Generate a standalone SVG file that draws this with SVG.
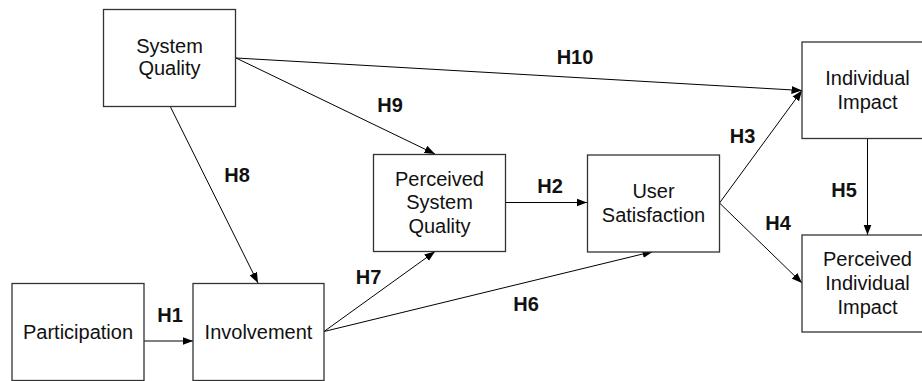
<svg xmlns="http://www.w3.org/2000/svg" width="922" height="381" viewBox="0 0 922 381">
<style>
.box{fill:#fff;stroke:#333;stroke-width:1.3}
.t{font-family:"Liberation Sans",Arial,sans-serif;font-size:20px;fill:#111;text-anchor:middle}
.lbl{font-family:"Liberation Sans",Arial,sans-serif;font-size:20px;font-weight:bold;fill:#111;text-anchor:middle}
.c{stroke:#000;stroke-width:1;fill:none;marker-end:url(#ah)}
</style>
<defs>
<marker id="ah" markerUnits="userSpaceOnUse" markerWidth="11" markerHeight="9" refX="10.5" refY="4.5" orient="auto">
<path d="M0,0.5 L10.5,4.5 L0,8.5 z" fill="#000"/>
</marker>
</defs>
<rect width="922" height="381" fill="#fff"/>
<g id="connectors">
<line class="c" x1="144" y1="341" x2="193" y2="341"/>
<line class="c" x1="506" y1="202.5" x2="587" y2="202.5"/>
<line class="c" x1="719.5" y1="203" x2="802" y2="90.5"/>
<line class="c" x1="719.5" y1="203" x2="802" y2="283"/>
<line class="c" x1="867.5" y1="138.5" x2="867.5" y2="235"/>
<line class="c" x1="324" y1="331.5" x2="653" y2="251.5"/>
<line class="c" x1="324" y1="331.5" x2="435" y2="251.5"/>
<line class="c" x1="170" y1="106" x2="258" y2="283"/>
<line class="c" x1="236" y1="58" x2="435" y2="154"/>
<line class="c" x1="236" y1="58" x2="802" y2="90.5"/>
<text class="lbl" x="170" y="322">H1</text>
<text class="lbl" x="550" y="193">H2</text>
<text class="lbl" x="742.5" y="143">H3</text>
<text class="lbl" x="778" y="230">H4</text>
<text class="lbl" x="844" y="197">H5</text>
<text class="lbl" x="526" y="311">H6</text>
<text class="lbl" x="368.5" y="284">H7</text>
<text class="lbl" x="237" y="181.5">H8</text>
<text class="lbl" x="390" y="111.5">H9</text>
<text class="lbl" x="575" y="64">H10</text>
</g>
<g id="system-quality">
<rect class="box" x="103.5" y="9.5" width="132" height="97"/>
<text class="t" x="169.5" y="52.5">System</text>
<text class="t" x="169.5" y="74.5">Quality</text>
</g>
<g id="participation">
<rect class="box" x="12" y="283.5" width="132" height="97"/>
<text class="t" x="78" y="338.5">Participation</text>
</g>
<g id="involvement">
<rect class="box" x="193" y="283.5" width="131" height="97"/>
<text class="t" x="258.5" y="338.5">Involvement</text>
</g>
<g id="perceived-system-quality">
<rect class="box" x="373.5" y="154.5" width="132" height="97"/>
<text class="t" x="439.5" y="185.5">Perceived</text>
<text class="t" x="439.5" y="209">System</text>
<text class="t" x="439.5" y="233">Quality</text>
</g>
<g id="user-satisfaction">
<rect class="box" x="587.5" y="155" width="132" height="97"/>
<text class="t" x="653.5" y="197.5">User</text>
<text class="t" x="653.5" y="221.5">Satisfaction</text>
</g>
<g id="individual-impact">
<rect class="box" x="802" y="42" width="131" height="96.5"/>
<text class="t" x="867.5" y="85">Individual</text>
<text class="t" x="867.5" y="108.5">Impact</text>
</g>
<g id="perceived-individual-impact">
<rect class="box" x="802" y="235" width="131" height="97"/>
<text class="t" x="867.5" y="265.5">Perceived</text>
<text class="t" x="867.5" y="289.5">Individual</text>
<text class="t" x="867.5" y="313.5">Impact</text>
</g>
</svg>
